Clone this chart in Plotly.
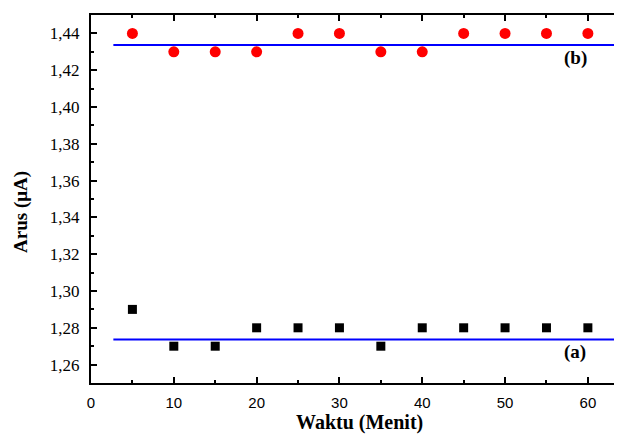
import plotly.graph_objects as go

waktu = [5, 10, 15, 20, 25, 30, 35, 40, 45, 50, 55, 60]
arus_a = [1.29, 1.27, 1.27, 1.28, 1.28, 1.28, 1.27, 1.28, 1.28, 1.28, 1.28, 1.28]
arus_b = [1.44, 1.43, 1.43, 1.43, 1.44, 1.44, 1.43, 1.43, 1.44, 1.44, 1.44, 1.44]
line_x = [2.7, 63.2]
level_a = 1.2737
level_b = 1.4337
label_a = "(a)"
label_b = "(b)"
x_ticks = [0, 10, 20, 30, 40, 50, 60]
y_ticks = [1.26, 1.28, 1.30, 1.32, 1.34, 1.36, 1.38, 1.40, 1.42, 1.44]

SERIF = "Liberation Serif, Times New Roman, serif"
SANS = "Liberation Sans, Arial, sans-serif"

fig = go.Figure()
fig.add_trace(go.Scatter(x=line_x, y=[level_b, level_b], mode="lines",
                         line=dict(color="#0000ff", width=2), showlegend=False))
fig.add_trace(go.Scatter(x=line_x, y=[level_a, level_a], mode="lines",
                         line=dict(color="#0000ff", width=2), showlegend=False))
fig.add_trace(go.Scatter(x=waktu, y=arus_b, mode="markers",
                         marker=dict(symbol="circle", size=11, color="#ff0000"),
                         showlegend=False))
fig.add_trace(go.Scatter(x=waktu, y=arus_a, mode="markers",
                         marker=dict(symbol="square", size=9, color="#000000"),
                         showlegend=False))

fig.add_annotation(x=58.5, y=1.4266, text="<b>" + label_b + "</b>", showarrow=False,
                   font=dict(family=SERIF, size=19, color="black"))
fig.add_annotation(x=58.5, y=1.2666, text="<b>" + label_a + "</b>", showarrow=False,
                   font=dict(family=SERIF, size=19, color="black"))

# axis titles
fig.add_annotation(xref="paper", yref="paper", x=-0.132, y=0.465, text="<b>Arus (μA)</b>",
                   textangle=-90, showarrow=False, xanchor="center", yanchor="middle",
                   font=dict(family=SERIF, size=19, color="black"))
fig.add_annotation(xref="paper", yref="paper", x=0.5075, y=-0.108, text="<b>Waktu (Menit)</b>",
                   showarrow=False, xanchor="center", yanchor="middle",
                   font=dict(family=SERIF, size=20, color="black"))

fig.update_xaxes(range=[0, 64], tickvals=x_ticks,
                 showline=True, linecolor="black", linewidth=2, mirror="ticks",
                 ticks="inside", tickcolor="black", tickwidth=2, ticklen=6,
                 showgrid=False, zeroline=False, automargin=False,
                 minor=dict(dtick=5, tick0=0, ticks="inside", ticklen=3, tickwidth=2,
                            tickcolor="black", showgrid=False),
                 tickfont=dict(family=SANS, size=15, color="black"),
                 ticklabelstandoff=5)
fig.update_yaxes(range=[1.25, 1.45], tickvals=y_ticks, tickformat=".2f",
                 showline=True, linecolor="black", linewidth=2, mirror=False,
                 ticks="inside", tickcolor="black", tickwidth=2, ticklen=6,
                 showgrid=False, zeroline=False, automargin=False,
                 minor=dict(dtick=0.01, tick0=1.25, ticks="inside", ticklen=3, tickwidth=2,
                            tickcolor="black", showgrid=False),
                 tickfont=dict(family=SERIF, size=17, color="black"),
                 ticklabelstandoff=6)

# the page body adds an 8 px offset, so the figure is sized and placed to compensate
fig.update_layout(width=614, height=426, separators=",.",
                  margin=dict(l=83, r=1, t=7, b=51),
                  plot_bgcolor="white", paper_bgcolor="white")

fig.write_html("out.html")
